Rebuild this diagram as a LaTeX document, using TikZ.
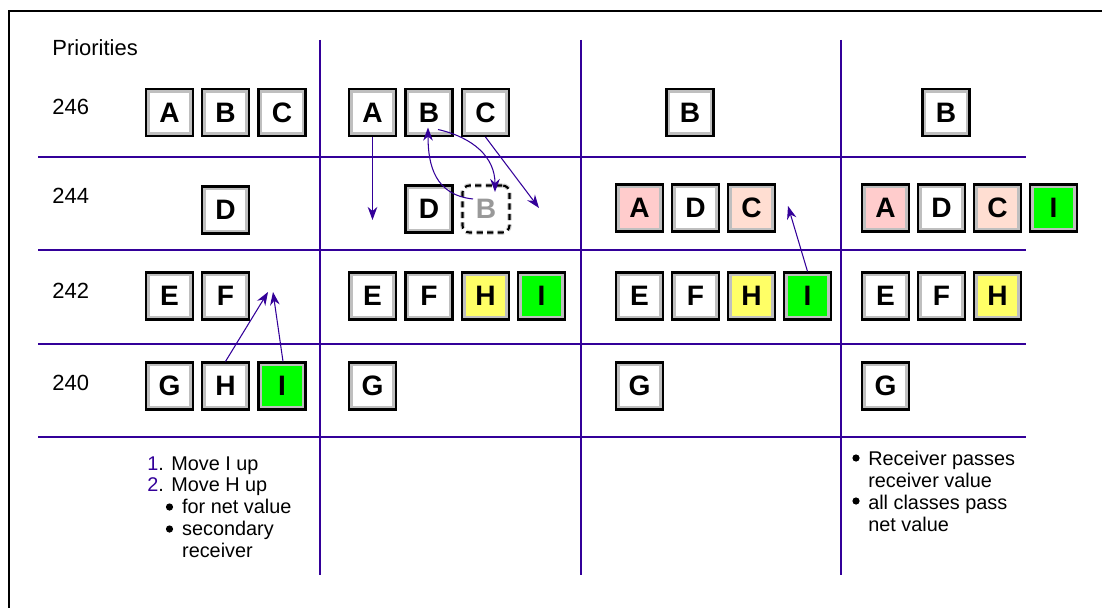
\documentclass[tikz,border=0pt]{standalone}
\usepackage{fontspec}
\setmainfont{Liberation Sans}
\usetikzlibrary{arrows.meta}

\definecolor{gridline}{RGB}{51,0,153}
\definecolor{lowpink}{RGB}{255,204,204}
\definecolor{lowpeach}{RGB}{255,222,210}
\definecolor{hiyellow}{RGB}{255,255,102}
\definecolor{hilime}{RGB}{0,255,0}

\tikzset{
  cls/.style={draw=black, line width=1.2pt, fill=white, minimum size=0.94cm, inner sep=0pt,
    font=\fontsize{16}{18}\selectfont\bfseries,
    path picture={\draw[gray!50, line width=4.5pt] (path picture bounding box.south west)
      rectangle (path picture bounding box.north east);}},
  ghost/.style={minimum size=0.94cm, inner sep=0pt, rounded corners=4pt,
    preaction={draw=gray!35, line width=2.6pt},
    draw=black, line width=1.2pt, dash pattern=on 3.5pt off 2.5pt,
    text=gray!80, font=\fontsize{16}{18}\selectfont\bfseries},
  flow/.style={gridline, line width=0.6pt, -{Stealth[length=7.5pt, width=5.5pt]}},
  rule/.style={gridline, line width=0.6pt},
  prio/.style={anchor=west, inner sep=0pt, font=\fontsize{12.5}{14}\selectfont},
  note/.style={anchor=north west, inner sep=0pt, align=left,
    font=\fontsize{11.3}{12.4}\selectfont},
}

\begin{document}
\begin{tikzpicture}[x=0.02cm, y=-0.02cm]
    \useasboundingbox (0,0) rectangle (1102,608);

    % frame
    \draw[line width=1.2pt] (9,608) -- (9,11) -- (1102,11);

    % priority rows and columns
    \draw[rule] (38,157) -- (1026,157);
    \draw[rule] (38,250) -- (1026,250);
    \draw[rule] (38,344) -- (1026,344);
    \draw[rule] (38,437) -- (1026,437);
    \draw[rule] (320,40) -- (320,575);
    \draw[rule] (581,40) -- (581,575);
    \draw[rule] (841,40) -- (841,575);

    \node[prio] (title) at (52,48) {Priorities};
    \node[prio] (p246) at (52,107) {246};
    \node[prio] (p244) at (52,196) {244};
    \node[prio] (p242) at (52,291) {242};
    \node[prio] (p240) at (52,383) {240};

    % column 1
    \node[cls] (c1A) at (169.5,112.5) {A};
    \node[cls] (c1B) at (225.5,112.5) {B};
    \node[cls] (c1C) at (282,112.5) {C};
    \node[cls] (c1D) at (225.5,210) {D};
    \node[cls] (c1E) at (169.5,296) {E};
    \node[cls] (c1F) at (225.5,296) {F};
    \node[cls] (c1G) at (169.5,386) {G};
    \node[cls] (c1H) at (225.5,386) {H};
    \node[cls, fill=hilime] (c1I) at (282,386) {I};

    % column 2
    \node[cls] (c2A) at (372.5,112.5) {A};
    \node[cls] (c2B) at (429,112.5) {B};
    \node[cls] (c2C) at (485.5,112.5) {C};
    \node[cls] (c2D) at (429,209) {D};
    \node[ghost] (c2Bx) at (486,209) {B};
    \node[cls] (c2E) at (372.5,296) {E};
    \node[cls] (c2F) at (429,296) {F};
    \node[cls, fill=hiyellow] (c2H) at (485.5,296) {H};
    \node[cls, fill=hilime] (c2I) at (541.5,296) {I};
    \node[cls] (c2G) at (372.5,386) {G};

    % column 3
    \node[cls] (c3B) at (690,112.5) {B};
    \node[cls, fill=lowpink] (c3A) at (639.5,208) {A};
    \node[cls] (c3D) at (695.5,208) {D};
    \node[cls, fill=lowpeach] (c3C) at (751.5,208) {C};
    \node[cls] (c3E) at (639.5,296) {E};
    \node[cls] (c3F) at (695.5,296) {F};
    \node[cls, fill=hiyellow] (c3H) at (751.5,296) {H};
    \node[cls, fill=hilime] (c3I) at (807.5,296) {I};
    \node[cls] (c3G) at (639.5,386) {G};

    % column 4
    \node[cls] (c4B) at (946,112.5) {B};
    \node[cls, fill=lowpink] (c4A) at (885.5,208) {A};
    \node[cls] (c4D) at (941.5,208) {D};
    \node[cls, fill=lowpeach] (c4C) at (997.5,208) {C};
    \node[cls, fill=hilime] (c4I) at (1053.5,208) {I};
    \node[cls] (c4E) at (885.5,296) {E};
    \node[cls] (c4F) at (941.5,296) {F};
    \node[cls, fill=hiyellow] (c4H) at (997.5,296) {H};
    \node[cls] (c4G) at (885.5,386) {G};

    % moves
    \coordinate (c1Hup) at (268,292);
    \coordinate (c1Iup) at (273,292);
    \coordinate (c2Adrop) at (372.5,220);
    \coordinate (c2Cdrop) at (539,208);
    \coordinate (c3Iup) at (788,206);

    \draw[flow] (c1H.north) -- (c1Hup);
    \draw[flow] ([xshift=0.02cm]c1I.north) -- (c1Iup);
    \draw[flow] (c2A.south) -- (c2Adrop);
    \draw[flow] (c2C.south) -- (c2Cdrop);
    \draw[flow] ([shift={(9,17)}]c2B.center) .. controls +(35,8) and +(0,-35) .. ([shift={(9,-17)}]c2Bx.center);
    \draw[flow] ([shift={(-13,-10)}]c2Bx.center) .. controls +(-38,-4) and +(0,38) .. ([shift={(-1,15)}]c2B.center);
    \draw[flow] (c3I.north) -- (c3Iup);

    % notes
    \node[note] (steps) at (147,456) {%
      {\color{gridline}1}. Move I up\\
      {\color{gridline}2}. Move H up\\
      \hspace*{19.8pt}for net value\\
      \hspace*{19.8pt}secondary\\
      \hspace*{19.8pt}receiver};
    \node[note] (passes) at (853,451) {%
      \hspace*{8.5pt}Receiver passes\\
      \hspace*{8.5pt}receiver value\\
      \hspace*{8.5pt}all classes pass\\
      \hspace*{8.5pt}net value};

    % bullets
    \fill (169.5,507) circle (3.6);
    \fill (169.5,529) circle (3.6);
    \fill (856,458) circle (3.6);
    \fill (856,501) circle (3.6);
\end{tikzpicture}
\end{document}
